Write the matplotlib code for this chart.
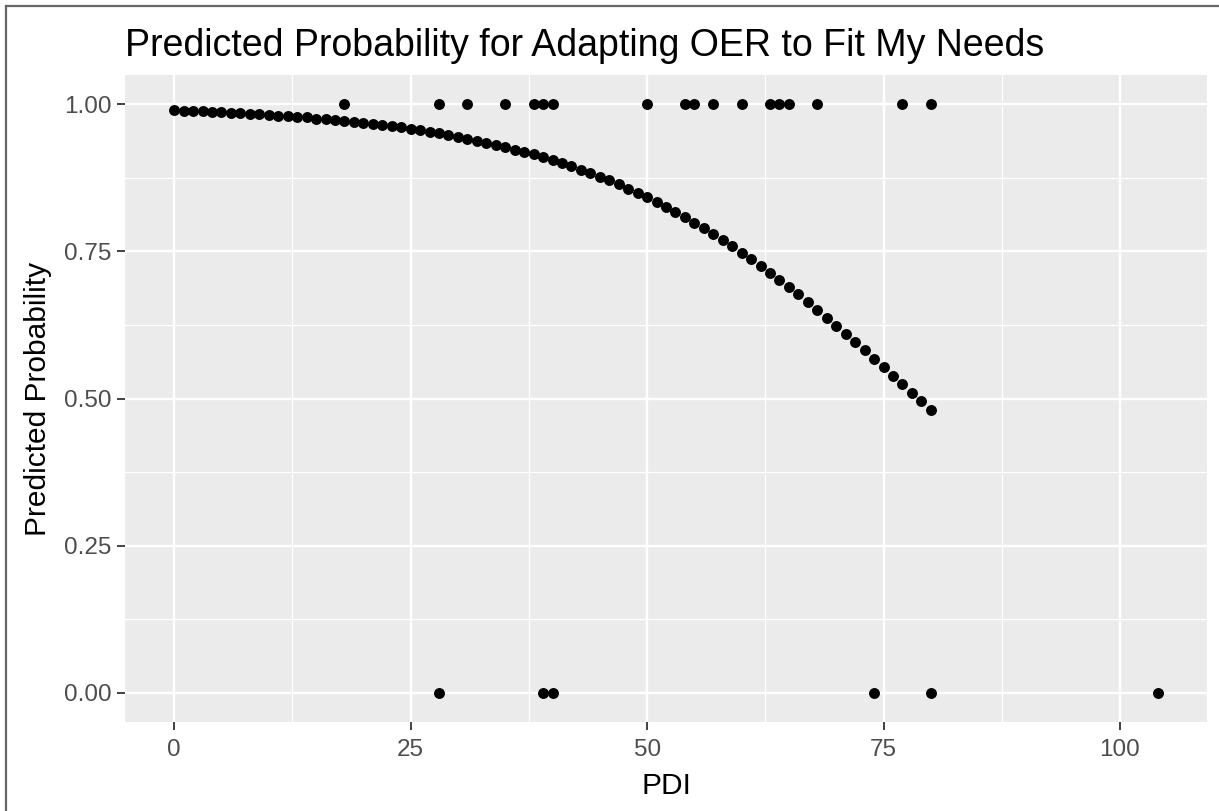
import matplotlib
matplotlib.use('Agg')
import matplotlib.pyplot as plt
from matplotlib.lines import Line2D

plt.rcParams['font.family'] = ['Liberation Sans', 'DejaVu Sans']

# predicted probability at PDI = 0..80
pdi_pred = list(range(0, 81))
prob_pred = [0.990, 0.989, 0.989, 0.988, 0.987, 0.987, 0.986, 0.985, 0.984, 0.983,
             0.982, 0.981, 0.980, 0.979, 0.978, 0.976, 0.975, 0.973, 0.972, 0.970,
             0.969, 0.967, 0.965, 0.963, 0.961, 0.958, 0.956, 0.953, 0.951, 0.948,
             0.945, 0.942, 0.938, 0.935, 0.931, 0.928, 0.923, 0.919, 0.915, 0.910,
             0.905, 0.900, 0.895, 0.889, 0.883, 0.877, 0.871, 0.864, 0.857, 0.850,
             0.842, 0.834, 0.826, 0.817, 0.808, 0.799, 0.790, 0.780, 0.769, 0.759,
             0.748, 0.737, 0.725, 0.714, 0.702, 0.689, 0.677, 0.664, 0.651, 0.637,
             0.624, 0.610, 0.596, 0.582, 0.567, 0.553, 0.538, 0.524, 0.509, 0.495,
             0.480]

# observed answers
pdi_yes = [18, 28, 31, 35, 38, 39, 40, 50, 54, 55, 57, 60, 63, 64, 65, 68, 77, 80]
pdi_no = [28, 39, 40, 74, 80, 104]

title = 'Predicted Probability for Adapting OER to Fit My Needs'
x_ticks = [0, 25, 50, 75, 100]
y_ticks = [0.00, 0.25, 0.50, 0.75, 1.00]

fig = plt.figure(figsize=(12.19, 8.11), dpi=100)
ax = fig.add_axes([125/1219, 89/811, (1207-125)/1219, (722-75)/811])

ax.set_facecolor('#EBEBEB')
for s in ax.spines.values():
    s.set_visible(False)

ax.scatter(pdi_pred, prob_pred, s=62, color='black', zorder=3, linewidths=0)
ax.scatter(pdi_yes, [1]*len(pdi_yes), s=62, color='black', zorder=3, linewidths=0)
ax.scatter(pdi_no, [0]*len(pdi_no), s=62, color='black', zorder=3, linewidths=0)

ax.set_xlim(-5.2, 109.2)
ax.set_ylim(-0.05, 1.05)
ax.set_xticks(x_ticks)
ax.set_xticklabels([str(t) for t in x_ticks])
ax.set_yticks(y_ticks)
ax.set_yticklabels(['%.2f' % t for t in y_ticks])
ax.set_xticks([12.5, 37.5, 62.5, 87.5], minor=True)
ax.set_yticks([0.125, 0.375, 0.625, 0.875], minor=True)

ax.grid(True, which='major', color='white', linewidth=1.7, zorder=0)
ax.grid(True, which='minor', color='white', linewidth=0.9, zorder=0)
ax.set_axisbelow(True)

ax.tick_params(which='major', length=5.5, width=1.3, color='#333333',
               labelcolor='#4D4D4D', labelsize=17.5, pad=4)
ax.tick_params(axis='x', which='major', pad=7)
ax.tick_params(which='minor', length=0)

ax.set_xlabel('PDI', fontsize=21.5, labelpad=8)
ax.set_ylabel('Predicted Probability', fontsize=21.5, labelpad=9)
ax.set_title(title, fontsize=27, loc='left', pad=14)

# window frame (left and top edges)
fig.add_artist(Line2D([6/1219, 6/1219], [0, 1 - 6/811], transform=fig.transFigure,
                      color='#666666', linewidth=1.6))
fig.add_artist(Line2D([6/1219, 1], [1 - 6/811, 1 - 6/811], transform=fig.transFigure,
                      color='#666666', linewidth=1.6))

fig.savefig('out.png', dpi=100)
